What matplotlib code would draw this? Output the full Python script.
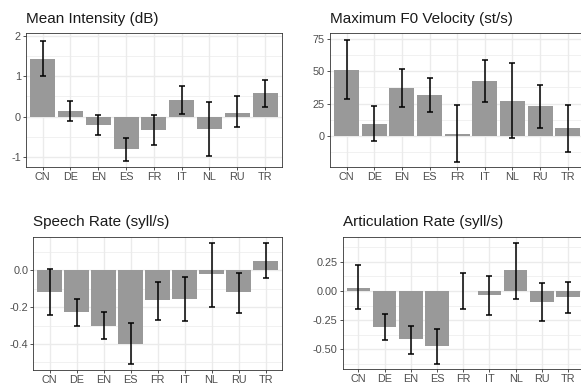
import numpy as np
import matplotlib
matplotlib.use("Agg")
import matplotlib.pyplot as plt
from matplotlib.ticker import FixedLocator

plt.rcParams['font.family'] = ['Liberation Sans', 'DejaVu Sans']
plt.rcParams['axes.unicode_minus'] = False

languages = ['CN', 'DE', 'EN', 'ES', 'FR', 'IT', 'NL', 'RU', 'TR']

# Mean intensity (dB)
intensity = [1.42, 0.13, -0.20, -0.80, -0.33, 0.41, -0.30, 0.10, 0.58]
intensity_lo = [1.00, -0.10, -0.46, -1.10, -0.70, 0.07, -0.98, -0.26, 0.24]
intensity_hi = [1.88, 0.38, 0.05, -0.53, 0.04, 0.76, 0.37, 0.51, 0.91]

# Maximum F0 velocity (st/s)
f0vel = [50.5, 9.5, 37.0, 31.3, 1.8, 42.2, 27.0, 22.9, 5.9]
f0vel_lo = [28.5, -3.6, 22.6, 18.2, -19.8, 26.5, -1.8, 6.2, -12.3]
f0vel_hi = [73.8, 23.1, 51.8, 44.8, 24.2, 58.6, 56.0, 39.6, 24.2]

# Speech rate (syll/s)
speech = [-0.119, -0.228, -0.300, -0.398, -0.163, -0.157, -0.020, -0.119, 0.050]
speech_lo = [-0.244, -0.302, -0.375, -0.509, -0.271, -0.275, -0.197, -0.230, -0.043]
speech_hi = [0.009, -0.154, -0.226, -0.288, -0.062, -0.034, 0.150, -0.013, 0.147]

# Articulation rate (syll/s)
artic = [0.028, -0.307, -0.415, -0.469, 0.002, -0.034, 0.176, -0.097, -0.051]
artic_lo = [-0.153, -0.418, -0.540, -0.622, -0.153, -0.210, -0.068, -0.261, -0.185]
artic_hi = [0.222, -0.196, -0.304, -0.324, 0.150, 0.131, 0.412, 0.071, 0.074]

W, H = 581, 390


def px_axes(fig, left, right, top, bottom):
    return fig.add_axes([left / W, 1 - bottom / H, (right - left) / W, (bottom - top) / H])


def panel(ax, title, vals, lo, hi, ylim, yticks, ylabels, yminor):
    x = np.arange(len(languages))
    vals = np.array(vals)
    err = [vals - np.array(lo), np.array(hi) - vals]
    ax.set_axisbelow(True)
    ax.bar(x, vals, width=0.9, color='#999999', zorder=2)
    ax.errorbar(x, vals, yerr=err, fmt='none', ecolor='black', elinewidth=1.1,
                capsize=1.9, capthick=1.1, zorder=3)
    ax.set_xlim(-0.6, len(languages) - 0.4)
    ax.set_ylim(*ylim)
    ax.set_xticks(x)
    ax.set_xticklabels(languages)
    ax.set_yticks(yticks)
    ax.set_yticklabels(ylabels)
    ax.yaxis.set_minor_locator(FixedLocator(yminor))
    ax.grid(True, which='major', color='#EBEBEB', linewidth=1.0)
    ax.grid(True, which='minor', axis='y', color='#EBEBEB', linewidth=0.5)
    ax.tick_params(which='major', length=2.2, width=0.6, color='#333333',
                   labelsize=7.8, labelcolor='#4D4D4D', pad=1.5)
    ax.tick_params(which='minor', length=0)
    for s in ax.spines.values():
        s.set_color('#333333')
        s.set_linewidth(0.6)
    ax.set_title(title, loc='left', fontsize=11, color='#1A1A1A', pad=7.5)


fig = plt.figure(figsize=(W / 100, H / 100), dpi=100)

ax1 = px_axes(fig, 26, 281.7, 33.3, 167.3)
panel(ax1, 'Mean Intensity (dB)', intensity, intensity_lo, intensity_hi,
      (-1.25, 2.06), [-1, 0, 1, 2], ['-1', '0', '1', '2'], [-0.5, 0.5, 1.5])

ax2 = px_axes(fig, 330, 584.3, 33.3, 166.7)
panel(ax2, 'Maximum F0 Velocity (st/s)', f0vel, f0vel_lo, f0vel_hi,
      (-23.6, 79), [0, 25, 50, 75], ['0', '25', '50', '75'], [-12.5, 12.5, 37.5, 62.5])

ax3 = px_axes(fig, 33.3, 281.7, 236.7, 370)
panel(ax3, 'Speech Rate (syll/s)', speech, speech_lo, speech_hi,
      (-0.541, 0.183), [-0.4, -0.2, 0.0], ['-0.4', '-0.2', '0.0'], [-0.5, -0.3, -0.1, 0.1])

ax4 = px_axes(fig, 342.7, 583.7, 236.7, 369.3)
panel(ax4, 'Articulation Rate (syll/s)', artic, artic_lo, artic_hi,
      (-0.67, 0.463), [-0.5, -0.25, 0.0, 0.25], ['-0.50', '-0.25', '0.00', '0.25'],
      [-0.625, -0.375, -0.125, 0.125, 0.375])

fig.savefig('out.png', dpi=100)
